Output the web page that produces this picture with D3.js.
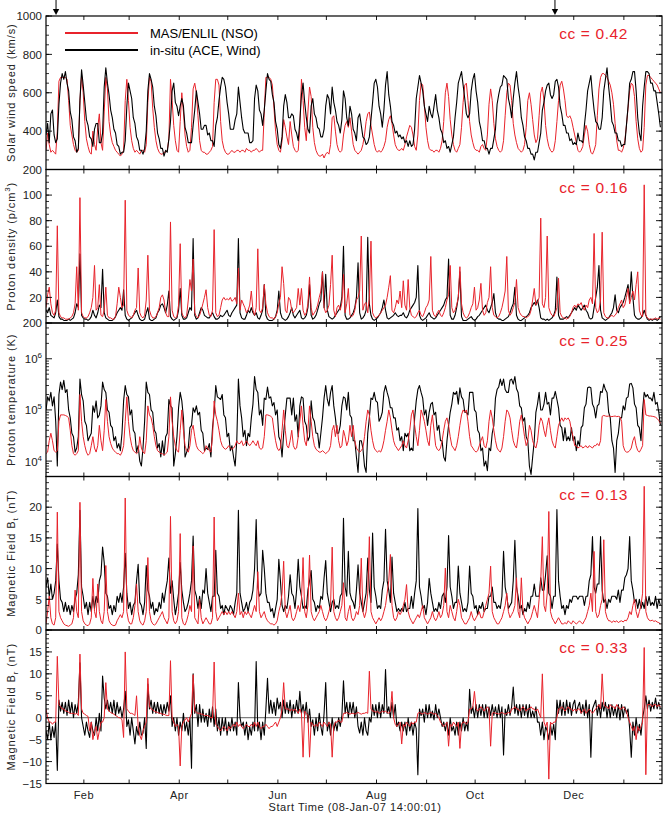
<!DOCTYPE html>
<html><head><meta charset="utf-8">
<script src="https://cdn.jsdelivr.net/npm/d3@7"></script>
<style>
body{margin:0;background:#fff}
svg{display:block}
text{font-family:"Liberation Sans",Arial,Helvetica,sans-serif}
</style>
</head><body>
<svg id="c" width="665" height="815"></svg>
<script>
// ---------------- DATA (daily samples from 08-Jan-07 14:00 UT) ----------------
const startTime = Date.UTC(2007,0,8,14,0,1);
const spanDays = 381;
const seriesNames = ["MAS/ENLIL (NSO)", "in-situ (ACE, Wind)"];
const ccValues = ["0.42","0.16","0.25","0.13","0.33"];
const arrowDates = ["2007-01-14T19:00:00Z","2007-11-19T09:00:00Z"];

// Solar wind speed (km/s)
const speedModel = [
300,390,330,290,300,290,280,400,660,680,
680,680,680,670,560,430,380,330,300,290,
300,560,690,600,450,360,320,290,280,400,
330,300,420,490,340,300,500,680,620,450,
380,340,320,300,290,280,270,280,300,560,
670,560,420,350,310,290,300,290,280,300,
300,290,330,550,680,660,520,420,350,310,
290,280,280,290,290,300,360,670,560,430,
350,300,290,450,600,500,380,320,290,300,
420,620,650,600,480,350,300,290,290,280,
280,290,300,320,550,670,670,640,450,350,
310,290,280,280,290,300,290,290,300,300,
290,300,300,290,310,300,300,290,300,300,
310,300,290,300,300,500,680,680,680,670,
640,520,400,330,300,290,350,460,420,370,
330,450,380,320,300,290,300,420,670,560,
420,350,500,630,580,420,340,300,280,270,
270,280,260,280,290,280,330,470,480,400,
330,300,290,300,380,430,450,420,470,400,
330,300,290,280,290,300,330,380,450,490,
500,430,380,330,300,290,300,290,300,320,
350,420,460,480,440,380,330,310,300,300,
310,300,330,370,400,430,420,380,320,300,
380,560,650,640,540,420,350,310,300,300,
290,300,300,290,310,350,450,600,650,580,
460,380,330,300,290,310,330,420,550,640,
650,560,450,380,340,310,300,300,290,320,
330,310,300,380,540,620,560,440,360,320,
300,290,300,350,480,600,650,640,560,440,
380,340,310,300,290,300,330,420,560,600,
540,460,380,340,360,480,600,630,560,430,
360,320,300,290,300,350,450,560,640,660,
620,560,480,470,480,460,420,380,340,300,
290,300,320,380,430,400,330,290,280,300,
330,480,620,680,700,700,690,680,660,640,
600,540,440,350,300,300,290,310,350,430,
520,610,650,640,580,450,360,310,290,300,
420,640,690,690,680,670,660,650,640,620,
600];
const speedObs = [
380,440,340,490,510,380,340,360,540,650,
700,670,710,650,610,500,460,370,350,290,
310,560,720,640,550,460,430,370,360,320,
410,440,440,340,340,390,630,730,650,590,
510,470,410,390,330,320,280,290,290,350,
530,650,610,570,470,440,370,350,300,300,
280,310,400,610,700,670,630,530,480,390,
360,310,310,270,300,290,360,450,610,650,
550,530,480,530,570,530,420,390,340,340,
340,430,510,610,550,490,410,410,430,430,
380,390,350,350,320,430,470,560,630,680,
670,630,550,490,410,410,410,460,490,630,
550,470,410,390,390,390,340,340,350,570,
640,610,510,490,430,510,610,700,670,660,
590,550,450,410,330,310,370,530,590,550,
470,470,490,480,410,390,350,450,590,650,
550,470,410,390,530,570,490,470,420,410,
370,370,410,530,590,570,490,630,550,510,
450,430,390,460,610,570,470,430,530,490,
410,390,350,470,490,430,370,360,330,340,
370,460,550,650,670,630,530,490,420,510,
640,710,590,530,450,430,390,400,370,380,
360,370,340,350,320,350,320,330,410,570,
630,690,650,610,530,490,450,530,490,470,
530,590,510,470,410,390,340,350,310,320,
290,330,370,470,550,650,680,710,640,570,
490,470,490,610,670,700,610,550,450,410,
350,350,310,310,280,310,310,360,410,540,
590,630,640,690,680,670,570,530,470,570,
650,710,630,570,470,430,370,350,310,310,
280,280,250,290,290,340,390,510,550,610,
640,650,590,570,590,660,670,630,530,490,
430,430,390,390,350,360,330,340,330,390,
350,350,340,430,510,610,650,690,590,510,
450,440,410,410,470,610,670,730,630,550,
450,430,390,390,350,350,320,330,330,430,
530,650,670,710,710,610,470,390,350,530,
630,710,710,700,650,650,610,610,550,490,
420];

// Proton density (p/cm^3)
const densityModel = [
12,22,28,15,8,6,10,76,8,5,
4,4,3,3,3,4,5,8,15,44,
10,98,8,5,4,4,5,8,12,20,
45,10,12,30,6,5,10,28,6,4,
4,3,3,5,15,28,20,12,14,96,
10,6,5,4,6,10,12,43,8,5,
4,6,18,53,10,6,4,4,5,8,
12,20,22,18,8,5,5,79,10,5,
4,5,14,62,8,5,4,6,18,34,
25,50,8,5,4,6,10,15,20,26,
12,6,5,10,73,8,5,6,12,18,
20,18,19,18,20,17,18,20,15,43,
10,18,15,12,8,10,14,25,10,6,
12,58,10,8,12,30,15,8,5,4,
4,3,5,8,15,20,44,31,10,8,
20,18,10,8,10,12,27,14,27,10,
6,8,15,36,12,6,8,10,14,20,
25,40,12,8,10,14,30,53,10,5,
12,14,10,16,38,8,15,27,6,5,
6,10,18,20,25,68,10,15,16,8,
20,64,8,5,4,5,6,8,10,12,
14,20,28,37,10,8,12,18,15,25,
12,33,14,10,34,12,6,5,4,5,
8,10,6,5,8,12,14,18,52,10,
6,5,8,10,6,5,8,12,18,22,
45,12,8,10,14,20,44,15,8,5,
4,5,8,12,15,28,10,12,18,31,
10,6,8,16,20,44,12,6,5,4,
5,8,12,18,25,52,10,6,8,12,
16,34,12,8,6,5,5,4,5,6,
10,18,27,14,16,20,82,15,12,20,
68,12,8,6,5,8,12,35,8,5,
4,4,3,4,5,8,12,14,12,15,
14,16,12,10,14,12,18,20,15,70,
12,8,10,18,71,8,5,4,4,5,
6,5,6,8,12,15,18,12,14,20,
27,15,20,25,18,30,40,10,6,5,
108,6,4,3,3,3,3,4,3,4,
3];
const densityObs = [
10,8,12,6,5,4,8,18,5,3,
3,2,2,2,3,2,3,4,8,15,
12,54,6,4,3,3,2,3,5,10,
6,4,8,14,12,42,8,4,3,2,
2,2,3,5,8,10,12,10,26,6,
3,2,3,4,6,8,10,6,3,2,
2,3,8,12,3,2,2,3,4,8,
10,14,15,12,8,14,25,5,3,2,
3,4,10,27,6,3,3,4,8,12,
10,66,6,3,4,8,12,10,6,5,
4,4,6,8,5,3,3,4,6,5,
6,8,10,6,5,8,10,12,14,66,
8,4,3,3,6,10,8,12,8,6,
8,4,3,6,10,30,6,3,2,2,
2,3,5,10,25,8,4,3,2,3,
5,8,12,6,4,6,8,10,4,3,
4,6,12,30,6,3,4,6,10,15,
18,40,12,38,10,5,4,3,4,6,
8,10,12,20,60,6,3,3,4,6,
8,12,20,47,8,3,4,6,10,67,
15,6,3,2,3,4,6,8,12,18,
10,4,3,4,5,6,8,6,5,6,
6,8,5,4,6,10,12,14,16,20,
45,6,3,2,3,4,6,8,5,4,
3,4,6,8,10,12,14,18,20,50,
6,3,3,6,12,20,40,5,2,2,
2,3,4,5,3,2,3,5,6,8,
10,12,14,10,8,12,16,23,8,4,
3,3,2,2,3,4,5,8,12,15,
28,6,3,2,2,3,4,5,6,8,
12,14,16,14,18,12,4,3,3,2,
3,2,3,4,6,10,36,6,3,3,
3,4,5,4,6,8,10,12,10,14,
12,10,12,14,10,8,4,3,4,12,
20,28,45,10,4,3,2,3,4,6,
8,12,22,10,8,12,14,16,20,25,
30,18,40,20,6,4,3,3,4,6,
10,6,3,2,3,2,3,3,2,3,
5];

// Proton temperature (thousands of K)
const tempModel_kK = [
14,15,25,35,25,16,15,16,60,80,
80,80,78,75,70,40,20,14,13,14,
16,200,60,30,20,15,13,14,20,30,
18,15,20,50,25,16,40,160,60,30,
22,18,16,15,14,14,13,15,20,60,
180,60,30,20,16,15,14,15,30,18,
15,14,25,120,80,70,50,30,20,16,
15,14,14,13,14,15,30,180,60,30,
20,16,15,40,100,40,20,16,15,20,
40,50,30,20,17,16,15,14,15,20,
18,16,15,30,150,80,60,40,25,20,
18,17,18,20,18,17,18,20,25,22,
22,25,20,22,25,22,20,22,25,22,
20,25,18,17,18,30,80,80,78,75,
70,40,25,18,16,18,40,100,40,20,
18,25,40,20,17,18,30,60,120,50,
25,20,40,120,60,30,20,17,16,15,
15,16,15,14,15,16,20,40,50,30,
50,25,18,20,40,30,20,25,50,30,
50,25,18,16,15,16,18,30,60,100,
80,40,25,18,16,15,16,15,18,25,
40,60,100,70,40,25,20,18,16,18,
20,25,20,18,25,40,80,100,50,30,
20,40,100,80,60,40,25,20,50,80,
40,20,17,16,18,25,40,60,70,50,
30,20,18,16,20,30,50,80,100,90,
100,60,30,20,18,16,15,16,20,25,
30,20,18,25,60,100,70,40,25,18,
16,15,18,30,60,100,90,70,40,25,
20,18,30,60,80,50,30,20,25,50,
40,25,20,18,25,50,70,60,40,30,
50,70,40,25,20,18,30,50,60,70,
60,70,65,70,60,40,30,20,20,18,
19,20,18,19,20,18,20,19,18,20,
20,22,20,25,75,78,76,75,76,75,
74,75,76,74,75,73,60,20,16,15,
15,16,18,25,30,20,16,15,17,20,
160,80,78,76,76,75,74,72,68,62,
55];
const tempObs_kK = [
100,180,150,220,120,180,60,8,200,350,
250,380,220,250,100,70,35,30,15,18,
30,400,200,150,60,50,25,30,35,120,
90,150,70,80,120,350,250,220,100,90,
50,45,25,30,18,22,16,35,150,300,
200,180,80,100,40,35,15,20,10,8,
18,60,350,220,200,100,90,40,35,18,
22,12,25,13,30,35,160,120,110,8,
14,30,110,220,150,70,12,15,18,45,
50,110,90,120,80,90,40,35,16,18,
17,22,12,45,90,300,180,170,160,200,
80,70,30,35,16,20,12,8,25,400,
120,70,30,40,20,35,30,70,130,450,
250,220,80,100,50,170,160,280,170,180,
120,140,80,100,30,25,12,35,80,170,
170,170,80,170,60,80,30,120,180,170,
60,50,25,30,150,70,60,35,35,18,
35,70,170,300,160,120,220,300,120,70,
35,35,50,120,180,170,100,220,80,70,
25,25,12,6,25,25,18,8,6,35,
70,170,160,220,150,140,60,70,90,220,
300,220,170,110,110,70,70,40,45,25,
30,16,35,30,35,16,18,16,70,150,
250,300,220,170,80,100,50,90,130,140,
80,90,40,50,25,25,12,10,25,50,
90,130,220,200,230,130,270,180,160,90,
90,80,220,220,220,100,90,40,35,16,
18,8,10,6.5,18,16,35,50,170,250,
280,400,300,400,250,220,220,380,400,320,
450,260,220,120,110,60,70,30,25,8,
5.5,12,25,90,130,220,100,100,130,220,
130,140,80,170,170,230,160,110,50,45,
25,45,25,30,25,45,25,30,16,25,
20,45,50,110,130,270,280,270,130,110,
70,120,130,230,220,320,250,220,90,70,
25,18,6,25,35,70,70,120,100,170,
180,320,330,270,130,110,50,45,25,100,
220,180,200,170,170,150,220,130,140,90,
50];

// Magnetic field magnitude Bt (nT)
const btModel = [
1,3,5.5,2,1,0.8,2,19.2,3,2,
1.5,1,0.8,0.7,0.6,0.8,1,2,6.5,3,
2,20.8,3,1.5,1,0.8,0.7,1,2,8.4,
3,2,7.5,3,1.5,1,3,10.5,3,1.5,
1,0.8,0.7,0.8,1.5,2,2.5,2,3,21.5,
3,1.5,1,1,2,4,7.5,3,1.5,1,
0.8,1.5,3,11.8,3,1.5,1,0.8,1,1.5,
2,2.5,3,2,1.5,1,2,18.5,3,1.5,
1,1.5,3,15.7,2,1,0.8,1.5,2.5,4,
3,13.7,2,1.5,1,5,2,1,1.5,2,
1.5,1,1,2,18.4,3,1.5,2,2.5,3,
2.5,3,2.5,3,2.5,3,2.5,2,3,6,
2.5,3,2,3,2.5,3,2.5,2,3,4,
3,9.5,3,2,2.5,3,2,1.5,1.2,1,
1,0.8,1,1.5,3,4,6,11.2,3,2,
3,4,2,1.5,2,3,4,3,5,11.8,
3,2,4,12.2,3,2,1.5,2,2.5,3,
4,3,2,1.5,2,3,4,13.5,3,2,
1.5,2,3,4,7.7,2,1.5,3,4,2,
1.5,2,3,2.5,4,11.7,3,2,3,6,
15.2,3,2,1.5,1,1.5,2,1.5,2,3,
4,6,8,12.3,4,2,1.5,2,3,2.5,
3,4,5,7.4,3,2,1.5,1,1.5,2,
2.5,2,3,4,2,1.5,1,1.5,2,3,
2,1.5,2,3,2,2.5,4,10.1,3,2,
4,3,2,1.5,3,5,4,2,1.5,1,
1,1.5,2,3,2,1.5,2,2.5,3,2,
2,3,4,5,6,10.4,3,2,1.5,1,
1,1.5,2,3,4,6,3,2,2.5,3,
4,8.5,3,2,8.5,3,2,1.5,1,1.5,
2,3,4,3,2,5,8,15.2,4,3,
6,19.3,3,2,1.5,1,1.5,2,1.5,1,
1,1.2,1,1.5,1.2,1,1.5,1.2,1,1.2,
1.5,1.2,1,1.5,2,3,4,6,3,12.8,
3,2,2.5,4,5,14.7,3,2,1.5,1.5,
1.2,1.5,1.3,1.5,1.2,1.4,1.5,1.3,1.6,1.5,
2,3,2.5,4,5,3,2,3,4,6,
23.4,3,2,1.6,1.5,1.6,1.4,1.5,1.3,1.2,
1];
const btObs = [
7,8.5,5.5,7.5,5,6,8,14,8,5,
4.5,3,4.5,3,4,2.5,4,3,5,6,
9,19.5,7,5.5,3.5,4.5,2.5,4.5,3,5.5,
3.5,5.5,4.5,8,9,13.5,11,6,5.5,3.5,
4,2.5,4,3,5.5,4.5,6,4.5,7,12.5,
6,3.5,4.5,2.5,4,4.5,8,10.7,4.5,4,
2.5,4.5,10.5,6.5,5.5,3.5,4.5,2.5,3.5,3,
4.5,3.5,6,4.5,6.5,8,11.7,6,8,5,
2.5,4,6,11,6.5,4.5,3,3.5,4.5,6,
8,15.3,6.5,5.5,3.5,5.5,3.5,6.5,6,10,
6,4.5,3,5.5,5.5,13,6,5.5,3.5,4,
2.5,4,3.5,3,4,3.5,2.5,4.5,6,19.5,
6,4.5,3,3.5,4.5,3,4.5,5,6.5,10,
18,7,5.5,6,13,10,6,4.5,4.5,3,
3.5,2,3.5,5,11.5,8,4,3,4,3.5,
5.5,9,6,5.5,3.5,6.5,11.5,7,5.5,3.5,
4,3.5,6.5,8,9.7,5,4.5,3,4,3.5,
5.5,5,8.5,11.3,6,4.5,3,4.5,5,3.5,
4,3.5,5.5,6,18.2,7,5.5,12.8,6,5,
4.5,3.5,6.5,10.6,6,4.5,3,4.5,6,11.7,
6.5,4.5,15.8,7,5.5,3.5,4,3.5,6.5,8,
16.4,8,6.5,4.5,11.9,6,4.5,3,3.5,3,
3.5,3,4.5,3,3.5,3.5,5.5,3.5,6,8,
19.8,7,5.5,3.5,4,2.5,4.5,8.4,6,4.5,
3,3.5,3,4.5,3.5,5.5,6,4.5,7,15.4,
7,5.5,3.5,4.5,4.5,10.4,6,4.5,3,3.5,
3,4.5,10.4,6,5.5,3.5,4,2.5,4,3.5,
4.5,3,3.5,3.5,5.5,5.5,7,4.5,4.5,3.5,
4,3.5,5.5,12.8,7,5.5,3.5,4,4.5,8,
14.6,7,5.5,3.5,4,2.5,3.5,3,4.5,3.5,
5.5,5.5,7.5,5.5,5.5,5.5,8.5,6.5,6.5,9,
12.1,6,5.5,3.5,5.5,5.5,19.6,8,5.5,3.5,
4,2.5,4,3.5,5,4.5,5.5,5.5,5.5,5,
5.5,5.5,5.5,4,5.5,5.5,8,9,15.2,7,
6,7.5,7.5,15.2,6.5,4.5,5,3.5,5,4.5,
5.5,5.5,5.5,5,6.5,4.5,6.5,6.5,8.5,9,
10,15.2,8,6.5,4.5,5,3.5,5,3.5,4.5,
3.5,5.5,4,5.5,4,4.5,4,5.5,3.5,5,
4];

// Magnetic field radial component Br (nT)
const brModel = [
2,0,-1,-1,-1.5,-1,-1,14,3,2.5,
2,2,1.5,1.5,1.2,1,1,1,0.8,1,
0.5,14.5,2,1,0.8,0.5,0.3,-3,-1,-5,
-3,-2,-5,-3,-1,-1,0,8,2,1.5,
1.2,1,0.8,0.5,0.3,0,0,-0.5,-4.5,15,
2,1.5,1,1,0.8,0.5,5,-2,-4,-5,
-3,-2,-1,9,2.5,2,1.8,1.5,1.3,1.2,
1,1,0.8,0.8,0.6,0.5,0.5,13,0,-1,
-2,-1.5,-2,-11,-2,-1,-0.5,0,-1,0,
1,9.8,1.5,1.2,1,1,0.8,0.8,0.5,0.5,
0.5,0.3,0,0,12.7,-1.5,-2,-2.5,-3,-2.5,
-2,-2.5,-3,-2,-2.5,-2,-1.5,-2,-1,-2,
-1.5,-2,-2.5,-2,-1.5,-2,-2,-1.5,-2,-1,
-2,-1,-2,-2.5,-2,-2,-1.5,-2,-2.5,-2,
-2,-1.5,-1,-2,-1,0,2,8,2,2,
2,1.5,2,1.5,2,1.5,1,2,1,-9,
1.5,1,0.5,-9,-1,-1.5,-2,-1.5,-2,-1,
-1.5,-2,-1,-1.5,-2,-1,-1.5,-9,-2,-1,
-1,-0.5,-1,-1,1,1,1.2,1,0.8,1,
1,0.8,1,1.2,1,0.8,1,1,1.2,1,
10.6,2,1.5,1.5,1.2,1.5,1,1.2,1.5,1.3,
1.5,1.2,1,1.5,6,0,-1.5,-2,-1.5,-1,
-6,-1.5,-2,-1,-1.5,-2,-1,-1.5,-1,-1,
1,1.2,1,0.8,1.2,1,0.8,1,1.2,1,
0.8,1,0.5,0,-1,-1.5,-2,-1.5,-1,-6.5,
-1.5,-2,-1,-1.5,-2,-1,-7,-1.5,-1,-1,
-1.5,-1,2,2,2.5,6,2,1.5,2,2.5,
2,1.5,2,2.5,2,-6.5,1,1.2,1,1,
0.8,1,1.2,1,0.8,1,1.2,1,2,2,
2.5,2,2,1.5,2,2.5,2,1.5,2,2,
2.5,2,2,1.5,2,1,0,10,-1,-2,
-1,-14,-1,-1.5,-1,-1,0,2,2,2.5,
2,1.5,2,2.5,2,2,1.5,2,1.5,2,
2,1,1.5,2,1,1.5,2,1.5,1,1.5,
2,2.5,3,2,10,3,2.5,2.5,2,3,
2.5,2.5,2,3,2.5,2,2,2.5,2,1.5,
0,-1,-2,-3,-2,-5,-2,-3,-2,-1,
16,-13,3,3,3,2.5,3,3,2.5,3,
2.5];
const brObs = [
-3,-5,-1,-5,-2,-4.5,-1,-12,4,1.5,
3.5,1,3.5,0.5,4,1,3.5,0,3,1,
3.5,12.5,0,-2,-4,-1,-3,-4.5,-1,-3,
-4,0,-3,1,-3,9.5,4.5,2,4,1.5,
3.5,1,4,0.5,3.5,1,2.5,0,2,6,
-2,-0.5,-4,0,-3,-6,-2,-4,-1,-4,
-3.5,0,-7,7.7,2,4,1,3.5,1,3.5,
1,3,0.5,3,1,3.5,1.5,5,-2,0,
-3,0,-4,-1,-3,1,-3,-1,-4,0,
-11.5,10,1,3,-2,3,-1,2,-1,1,
-2,2,-1,2.5,-2,2,-3,0,-4,0,
-3,0,-4,-1,-3,0,-3,-1,-4,8,
0,-2,-1,-4,-1,-5,-2,-4,-1,-3,
12.8,-3,-1,-5,-1,-4,2,9,1,4,
1,3.5,0.5,4.5,2,3.5,0,4,1,3.5,
1,4,0,3,1,4,1,6,1,3,
0.5,3.5,-1,2,-2,-0.5,-4,0,-3,1,
-2,-4,1,8,-3,-1,-4,0,-3,-1,
-3,0,-2,0.5,8.4,1,3.5,0,3.5,1,
3.5,0,2.5,-2,-3.5,-1,-4,0,-3,-4,
0,-1,3,0.5,3,0,3.5,0,3,1,
11,1,2.5,0,3.5,0,3,-2,-1,-3,
-1,-3,-1,-4,0,-3,-1,-4,-1,-2.5,
-13,2,0.5,2,-1,3,0,3,0,1.5,
-0.5,3,0,2,0,-2,-1,-3,-1,-4,
0,-3,-2,-4,-1,-4,-1,-3,0,-3,
-1,-3,6.5,1,2.5,0,3,0,3,0.5,
3,0,3,0,2.5,0.5,3,0.5,2.5,0,
3,0,2.5,-8.5,2,0.5,3,0.5,2.5,7,
1,3,0.5,3,0,3,0.5,3,0,3,
0,1.5,0,2.5,-1,-1,-4,-1,-5,-2,
-3,-5,-1.5,-4,-1.5,-5,4,1,4,0.5,
3.5,0.5,4,1,3.5,0.5,3,4,1,2.5,
3.5,1,3,0.5,4,0,3,-9,2,3,
4,0.5,3,0,3.5,1.5,3.5,0,3,0,
3,0.5,2.5,0,3,-0.5,3,0,2.5,1,
2,-2.5,-9,-1,-4,0,-3.5,-1.5,-4,0,
2,5,2,4,1.5,3.5,2,4.5,2,3.5,
2];

// Axis tick values and labels
const speedTicks = [200,400,600,800,1000];
const speedTickLabels = ["200","400","600","800","1000"];
const densityTicks = [0,20,40,60,80,100];
const densityTickLabels = ["200","20","40","60","80","100"];
const tempTicks = [1e4,1e5,1e6];
const tempTickExponents = ["4","5","6"];
const btTicks = [0,5,10,15,20];
const btTickLabels = ["0","5","10","15","20"];
const brTicks = [-15,-10,-5,0,5,10,15];
const brTickLabels = ["\u221215","\u221210","\u22125","0","5","10","15"];
const monthLabelMonths = [1,3,5,7,9,11]; // Feb, Apr, Jun, Aug, Oct, Dec

// ---------------- DRAWING ----------------
const L = 46, R = 662, T0 = 16, PH = 153.5;
const RED = "#e8232b";
const svg = d3.select("#c");
const x = d3.scaleUtc()
  .domain([new Date(startTime), new Date(startTime + spanDays*864e5)])
  .range([L, R]);
const dayDate = k => new Date(startTime + k*864e5);

const panels = [
  {model: speedModel, obs: speedObs, unit: 1, scale: d3.scaleLinear().domain([200,1000]),
   ticks: speedTicks, labels: speedTickLabels, minor: d3.range(200,1001,50),
   title: [["Solar wind speed (km/s)","n"]], redOnTop: false},
  {model: densityModel, obs: densityObs, unit: 1, scale: d3.scaleLinear().domain([0,120]),
   ticks: densityTicks, labels: densityTickLabels, minor: d3.range(0,121,5),
   title: [["Proton density (p/cm","n"],["3","sup"],[")","n"]], redOnTop: true},
  {model: tempModel_kK, obs: tempObs_kK, unit: 1000, scale: d3.scaleLog().domain([5e3,5e6]),
   ticks: tempTicks, exps: tempTickExponents,
   minor: [6e3,7e3,8e3,9e3,2e4,3e4,4e4,5e4,6e4,7e4,8e4,9e4,2e5,3e5,4e5,5e5,6e5,7e5,8e5,9e5,2e6,3e6,4e6],
   title: [["Proton temperature (K)","n"]], redOnTop: true},
  {model: btModel, obs: btObs, unit: 1, scale: d3.scaleLinear().domain([0,25]),
   ticks: btTicks, labels: btTickLabels, minor: d3.range(0,26,1),
   title: [["Magnetic Field B","n"],["t","sub"],[" (nT)","n"]], redOnTop: true},
  {model: brModel, obs: brObs, unit: 1, scale: d3.scaleLinear().domain([-15,20]),
   ticks: brTicks, labels: brTickLabels, minor: d3.range(-15,21,1),
   title: [["Magnetic Field B","n"],["r","sub"],[" (nT)","n"]], redOnTop: true, zeroLine: true}
];

const months = d3.utcMonths(new Date(Date.UTC(2007,1,1)), x.domain()[1]);
const defs = svg.append("defs");

panels.forEach((p, i) => {
  const y0 = T0 + i*PH, y1 = y0 + PH;
  p.scale.range([y1, y0]);
  defs.append("clipPath").attr("id", "clip"+i)
    .append("rect").attr("x", L).attr("y", y0).attr("width", R-L).attr("height", PH);

  const g = svg.append("g");
  if (p.zeroLine) {
    g.append("line").attr("x1", L).attr("x2", R)
      .attr("y1", p.scale(0)).attr("y2", p.scale(0))
      .attr("stroke", "#808080").attr("stroke-width", 1.2);
  }
  const line = d3.line()
    .x((v, k) => x(dayDate(k)))
    .y(v => p.scale(v * p.unit));
  const drawSeries = (arr, color, w) => g.append("path")
    .attr("clip-path", "url(#clip"+i+")")
    .attr("d", line(arr)).attr("fill", "none")
    .attr("stroke", color).attr("stroke-width", w).attr("stroke-linejoin", "round");
  if (p.redOnTop) { drawSeries(p.obs, "#000", 1.1); drawSeries(p.model, RED, 1); }
  else { drawSeries(p.model, RED, 1); drawSeries(p.obs, "#000", 1.1); }

  // frame
  g.append("rect").attr("x", L).attr("y", y0).attr("width", R-L).attr("height", PH)
    .attr("fill", "none").attr("stroke", "#000").attr("stroke-width", 1.2);

  // y ticks (both sides, inward)
  p.minor.forEach(v => {
    const yy = p.scale(v);
    if (yy < y0 - 0.5 || yy > y1 + 0.5) return;
    g.append("line").attr("x1", L).attr("x2", L+3).attr("y1", yy).attr("y2", yy).attr("stroke", "#000").attr("stroke-width", 0.8);
    g.append("line").attr("x1", R).attr("x2", R-3).attr("y1", yy).attr("y2", yy).attr("stroke", "#000").attr("stroke-width", 0.8);
  });
  p.ticks.forEach((v, k) => {
    const yy = p.scale(v);
    g.append("line").attr("x1", L).attr("x2", L+6).attr("y1", yy).attr("y2", yy).attr("stroke", "#000").attr("stroke-width", 0.9);
    g.append("line").attr("x1", R).attr("x2", R-6).attr("y1", yy).attr("y2", yy).attr("stroke", "#000").attr("stroke-width", 0.9);
    if (p.exps) {
      const t = g.append("text").attr("x", 42).attr("y", yy + 4.5)
        .attr("text-anchor", "end").attr("font-size", 11.5).attr("fill", "#222");
      t.append("tspan").text("10");
      t.append("tspan").attr("dy", -5).attr("font-size", 8).text(p.exps[k]);
    } else {
      g.append("text").attr("x", 42).attr("y", yy + 4.2)
        .attr("text-anchor", "end").attr("font-size", 11.5).attr("fill", "#222")
        .text(p.labels[k]);
    }
  });

  // x ticks (top & bottom, inward)
  months.forEach(m => {
    const xx = x(m);
    g.append("line").attr("x1", xx).attr("x2", xx).attr("y1", y1).attr("y2", y1-4).attr("stroke", "#000").attr("stroke-width", 0.9);
    g.append("line").attr("x1", xx).attr("x2", xx).attr("y1", y0).attr("y2", y0+4).attr("stroke", "#000").attr("stroke-width", 0.9);
  });

  // y-axis title
  const tt = g.append("text")
    .attr("transform", `translate(15,${(y0+y1)/2}) rotate(-90)`)
    .attr("text-anchor", "middle").attr("font-size", 11).attr("letter-spacing", 0.9).attr("fill", "#222");
  let shift = 0;
  p.title.forEach(([s, mode]) => {
    const ts = tt.append("tspan").text(s);
    if (mode === "sup") { ts.attr("dy", -5 - shift).attr("font-size", 8); shift = -5; }
    else if (mode === "sub") { ts.attr("dy", 3 - shift).attr("font-size", 8); shift = 3; }
    else if (shift !== 0) { ts.attr("dy", -shift); shift = 0; }
  });

  // correlation coefficient
  g.append("text").attr("x", 628).attr("y", y0 + 23)
    .attr("text-anchor", "end").attr("font-size", 15.5).attr("fill", RED)
    .attr("letter-spacing", 0.6)
    .text("cc = " + ccValues[i]);
});

// month labels below last panel
const fmt = d3.utcFormat("%b");
months.filter(m => monthLabelMonths.includes(m.getUTCMonth()) && m.getUTCFullYear() === 2007)
  .forEach(m => {
    svg.append("text").attr("x", x(m)).attr("y", 799)
      .attr("text-anchor", "middle").attr("font-size", 11).attr("fill", "#222")
      .attr("letter-spacing", 0.5).text(fmt(m));
  });
svg.append("text").attr("x", 355).attr("y", 811)
  .attr("text-anchor", "middle").attr("font-size", 11).attr("fill", "#222")
  .attr("letter-spacing", 0.55)
  .text("Start Time (08-Jan-07 14:00:01)");

// legend
const legendColors = [RED, "#000"];
seriesNames.forEach((s, k) => {
  const yy = 33 + k*17;
  svg.append("line").attr("x1", 65).attr("x2", 138).attr("y1", yy).attr("y2", yy)
    .attr("stroke", legendColors[k]).attr("stroke-width", 2);
  svg.append("text").attr("x", 150).attr("y", yy + 4.5)
    .attr("font-size", 13).attr("fill", "#000").text(s);
});

// arrows above the top panel
arrowDates.forEach(ds => {
  const xx = x(new Date(ds));
  svg.append("line").attr("x1", xx).attr("x2", xx).attr("y1", 0).attr("y2", 11)
    .attr("stroke", "#000").attr("stroke-width", 1);
  svg.append("path").attr("d", `M${xx-3.2},9 L${xx+3.2},9 L${xx},15 Z`).attr("fill", "#000");
});
</script>
</body></html>
